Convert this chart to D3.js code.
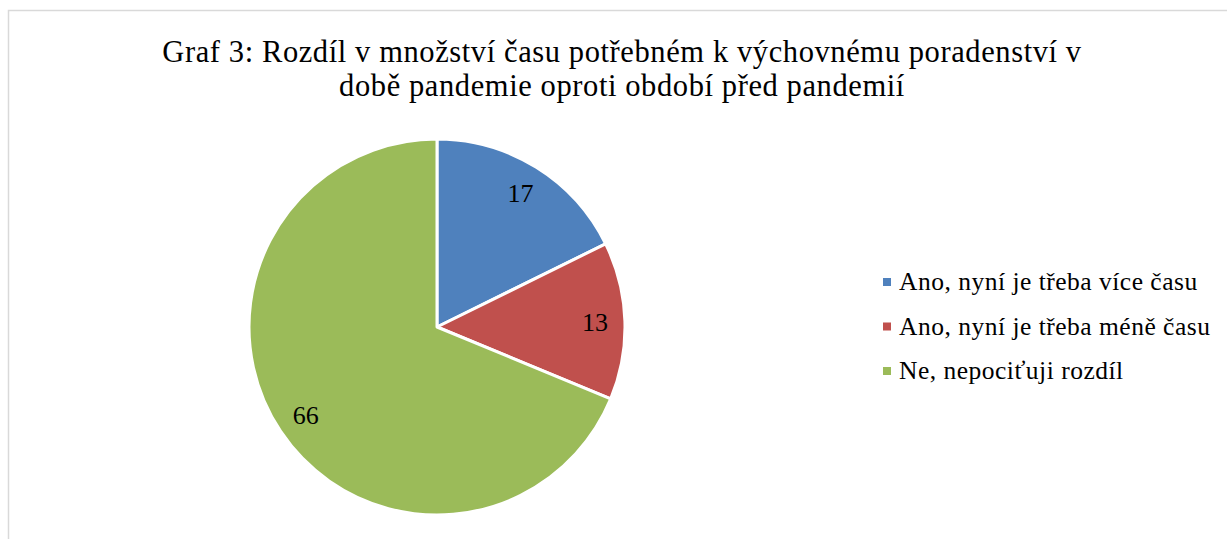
<!DOCTYPE html>
<html>
<head>
<meta charset="utf-8">
<script src="https://cdn.jsdelivr.net/npm/d3@7"></script>
</head>
<body style="margin:0">
<script>
const categories = ["Ano, nyní je třeba více času", "Ano, nyní je třeba méně času", "Ne, nepociťuji rozdíl"];
const values = [17, 13, 66];
const colors = ["#4F81BD", "#C0504D", "#9BBB59"];
const titleLines = ["Graf 3: Rozdíl v množství času potřebném k výchovnému poradenství v",
                    "době pandemie oproti období před pandemií"];

const width = 1227, height = 539;
const radius = 188;
const cx = 437, cy = 327;
const serifFont = "'Times New Roman', 'Liberation Serif', Tinos, serif";

const svg = d3.select("body").append("svg")
    .attr("width", width)
    .attr("height", height);

// chart frame (only left + top edges fall inside the picture)
svg.append("path")
    .attr("d", `M${width + 5},10.5 H8.5 V${height + 5}`)
    .attr("fill", "none")
    .attr("stroke", "#d9d9d9")
    .attr("stroke-width", 1.5);

const title = svg.append("text")
    .attr("y", 62)
    .attr("text-anchor", "middle")
    .style("font-family", serifFont)
    .style("font-size", "30.5px")
    .style("letter-spacing", "0.6px");

title.selectAll("tspan")
    .data(titleLines)
    .enter()
    .append("tspan")
    .attr("x", 622)
    .attr("dy", (d, i) => i === 0 ? 0 : 34)
    .text(d => d);

const pie = d3.pie().sort(null).value(d => d);
const arcs = pie(values);
const arc = d3.arc().innerRadius(0).outerRadius(radius);
const labelArc = d3.arc().innerRadius(158).outerRadius(158);

const g = svg.append("g").attr("transform", `translate(${cx},${cy})`);

g.selectAll("path")
    .data(arcs)
    .enter()
    .append("path")
    .attr("d", arc)
    .attr("fill", (d, i) => colors[i])
    .attr("stroke", "#fff")
    .attr("stroke-width", 3)
    .attr("stroke-linejoin", "round");

g.selectAll("text")
    .data(arcs)
    .enter()
    .append("text")
    .attr("transform", d => `translate(${labelArc.centroid(d)})`)
    .attr("text-anchor", "middle")
    .attr("dy", "0.35em")
    .style("font-family", serifFont)
    .style("font-size", "26px")
    .text(d => d.data);

const legend = svg.append("g").attr("transform", "translate(883,290)");

legend.selectAll("rect")
    .data(categories)
    .enter()
    .append("rect")
    .attr("x", 0)
    .attr("y", (d, i) => i * 44.5 - 12)
    .attr("width", 8)
    .attr("height", 8)
    .attr("fill", (d, i) => colors[i]);

legend.selectAll("text")
    .data(categories)
    .enter()
    .append("text")
    .attr("x", 16)
    .attr("y", (d, i) => i * 44.5)
    .style("font-family", serifFont)
    .style("font-size", "25.5px")
    .style("letter-spacing", "0.5px")
    .text(d => d);
</script>
</body>
</html>
